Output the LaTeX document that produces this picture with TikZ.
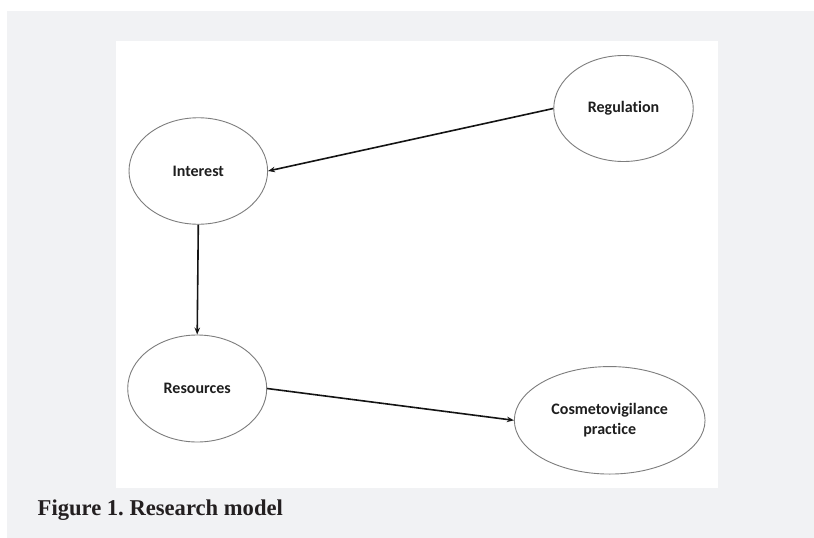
\documentclass[tikz,border=0pt]{standalone}
\usepackage{fontspec}
\setmainfont{Liberation Serif}
\newfontfamily\carlito[Ligatures=NoCommon]{Carlito}
\usetikzlibrary{shapes.geometric,arrows.meta}
\definecolor{bggray}{RGB}{241,242,244}
\definecolor{edgegray}{RGB}{125,125,125}
\definecolor{inktext}{RGB}{30,30,30}
\definecolor{captext}{RGB}{35,31,32}
\tikzset{
  construct/.style={ellipse, draw=edgegray, line width=0.9pt, fill=white, inner sep=0pt,
    font=\carlito\bfseries\fontsize{16}{19.5}\selectfont, text=inktext, align=center},
  link/.style={draw=black!92, line width=1.6pt, -{Stealth[length=7pt,width=5.5pt]}},
}
\frenchspacing
\begin{document}
\begin{tikzpicture}[x=1pt,y=1pt]
\useasboundingbox (0,0) rectangle (814,-538);
\fill[white] (0,0) rectangle (814,-538);
\fill[bggray] (7,-11) rectangle (814,-538);
\fill[white] (115.5,-40.5) rectangle (718,-487.5);
\node[construct, minimum width=138.6pt, minimum height=106.5pt] (int) at (198.3,-171) {Interest};
\node[construct, minimum width=139.5pt, minimum height=106pt] (reg) at (623.5,-108.5) {Regulation};
\node[construct, minimum width=139pt, minimum height=107pt] (res) at (197.2,-388.5) {Resources};
\node[construct, minimum width=190.7pt, minimum height=107.5pt] (cos) at (609.7,-420.3) {Cosmetovigilance\\practice};
\draw[link] (reg.west) -- (int.east);
\draw[link] (int.south) -- (res.north);
\draw[link] (res.east) -- (cos.west);
\node[anchor=base west, inner sep=0pt, font=\bfseries\fontsize{22.6}{26}\selectfont, text=captext] (cap) at (37.5,-515) {Figure 1. Research model};
\end{tikzpicture}
\end{document}
